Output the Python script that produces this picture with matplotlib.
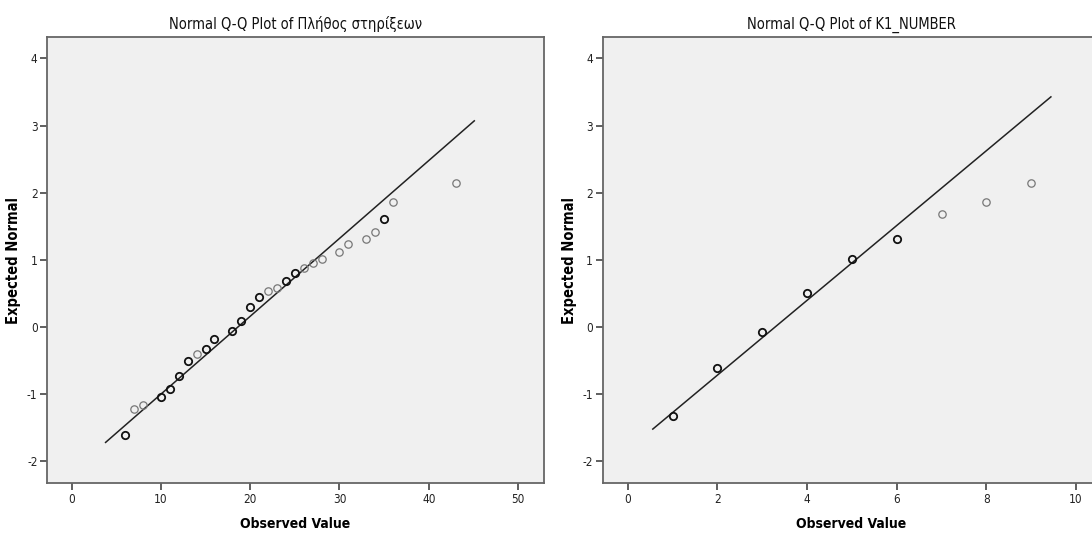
import numpy as np
import matplotlib
matplotlib.use("Agg")
import matplotlib.pyplot as plt

plt.rcParams['font.family'] = ['DejaVu Sans']
plt.rcParams['font.stretch'] = 'condensed'
plt.rcParams['axes.unicode_minus'] = False

# left panel: observed value vs expected normal score
obs_1 = [6, 7, 8, 10, 11, 12, 13, 14, 15, 16, 18, 19, 20, 21, 22, 23, 24, 25,
         26, 27, 28, 30, 31, 33, 34, 35, 36, 43]
exp_1 = [-1.607, -1.230, -1.161, -1.047, -0.918, -0.724, -0.511, -0.397, -0.322,
         -0.179, -0.060, 0.094, 0.298, 0.446, 0.536, 0.585, 0.680, 0.804, 0.883,
         0.947, 1.012, 1.111, 1.230, 1.314, 1.419, 1.602, 1.860, 2.150]
# tied cases draw darker circles
ties_1 = [2, 1, 1, 2, 2, 2, 2, 1, 2, 2, 2, 2, 2, 2, 1, 1, 2, 2, 1,
          1, 1, 1, 1, 1, 1, 2, 1, 1]
mean_1, sd_1 = 18.63, 8.62
line_x1 = [3.8, 45.1]

# right panel
obs_2 = [1, 2, 3, 4, 5, 6, 7, 8, 9]
exp_2 = [-1.324, -0.605, -0.079, 0.511, 1.012, 1.314, 1.677, 1.860, 2.150]
ties_2 = [2, 2, 2, 2, 2, 2, 1, 1, 1]
mean_2, sd_2 = 3.29, 1.794
line_x2 = [0.56, 9.44]

titles = ['Normal Q-Q Plot of Πλήθος στηρίξεων', 'Normal Q-Q Plot of K1_NUMBER']
xticks_1 = [0, 10, 20, 30, 40, 50]
xticks_2 = [0, 2, 4, 6, 8, 10]
yticks = [-2, -1, 0, 1, 2, 3, 4]

fig = plt.figure(figsize=(10.92, 5.34), dpi=100)
ax1 = fig.add_axes([0.0433, 0.0949, 0.4548, 0.8358])
ax2 = fig.add_axes([0.5519, 0.0949, 0.4548, 0.8358])

panels = [
    (ax1, obs_1, exp_1, ties_1, mean_1, sd_1, line_x1, xticks_1, (-2.73, 52.9), titles[0]),
    (ax2, obs_2, exp_2, ties_2, mean_2, sd_2, line_x2, xticks_2, (-0.558, 10.52), titles[1]),
]

for ax, xs, ys, ties, mu, sd, lx, xt, xl, title in panels:
    ax.set_facecolor('#f0f0f0')
    lx = np.array(lx)
    ax.plot(lx, (lx - mu) / sd, color='#222222', lw=1.1, zorder=2)
    for x, y, t in zip(xs, ys, ties):
        if t > 1:
            ax.plot(x, y, 'o', mfc='none', mec='#111111', mew=1.3, ms=5.3, zorder=3)
        else:
            ax.plot(x, y, 'o', mfc='none', mec='#777777', mew=0.9, ms=5.3, zorder=3)
    ax.set_xlim(*xl)
    ax.set_ylim(-2.33, 4.32)
    ax.set_xticks(xt)
    ax.set_yticks(yticks)
    ax.tick_params(direction='out', length=5, width=1.2, color='#444444',
                   labelsize=8.5, pad=2, labelcolor='#222222')
    for s in ax.spines.values():
        s.set_color('#666666')
        s.set_linewidth(1.3)
    ax.set_title(title, fontsize=10.5, pad=6, color='#111111')
    ax.set_xlabel('Observed Value', fontsize=10, fontweight='bold', labelpad=8)
    ax.set_ylabel('Expected Normal', fontsize=10.5, fontweight='bold', labelpad=4)

fig.savefig('out.png', dpi=100, facecolor='white')
